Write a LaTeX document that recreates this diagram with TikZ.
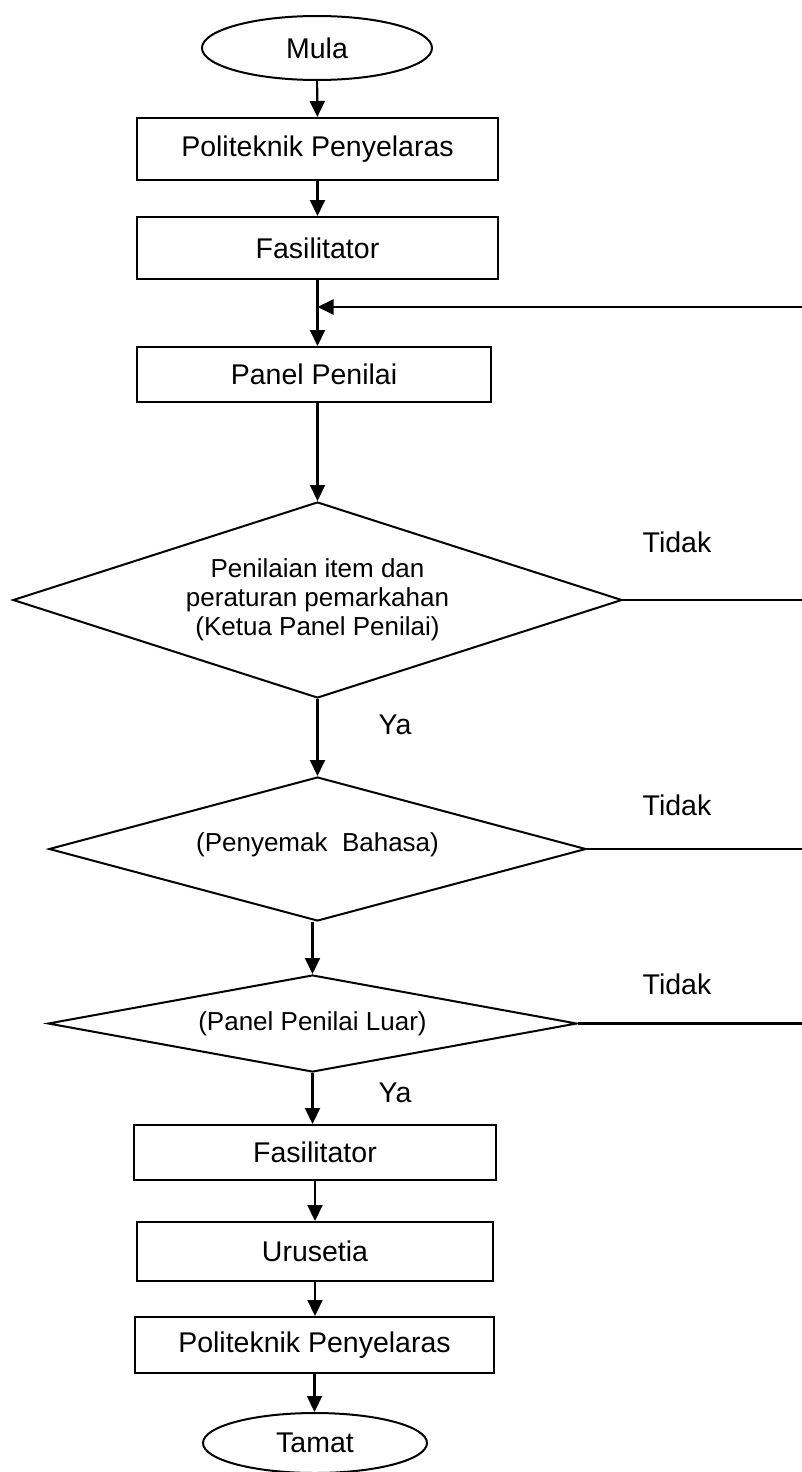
\documentclass[tikz,border=0pt]{standalone}
\usepackage{fontspec}
\setmainfont{Liberation Sans}
\usetikzlibrary{shapes.geometric,arrows.meta}
\newcommand\boxfont{\fontsize{28.5}{33}\selectfont}
\newcommand\decfont{\fontsize{26}{29}\selectfont}
\tikzset{
  conn/.style={line width=2.1pt},
  arr/.style={conn,-{Triangle[length=16pt,width=15pt]}},
  stepbox/.style={draw,rectangle,line width=2pt,inner sep=0pt,font=\boxfont},
  term/.style={draw,ellipse,line width=2pt,inner sep=0pt,font=\boxfont},
  decision/.style={draw,diamond,line width=2pt,inner sep=0pt,align=center,font=\decfont},
  lbl/.style={inner sep=0pt,font=\boxfont},
}
\begin{document}
\begin{tikzpicture}[x=1pt,y=-1pt]
\useasboundingbox (0,0) rectangle (802,1472);

% terminals and process boxes
\node[term,minimum width=230pt,minimum height=64pt] (start) at (317,48) {Mula};
\node[stepbox,minimum width=361pt,minimum height=62pt] (poli1) at (317.5,149) {Politeknik Penyelaras};
\node[stepbox,minimum width=361pt,minimum height=62pt] (fas1) at (317.5,248) {Fasilitator};
\node[stepbox,minimum width=354pt,minimum height=55pt] (panel) at (314,374.5) {Panel Penilai};

% decisions
\node[decision,shape aspect=3,minimum width=609pt,minimum height=196pt] (d1) at (317.5,600)
  {Penilaian item dan\\peraturan pemarkahan\\(Ketua Panel Penilai)};
\node[decision,shape aspect=3.7,minimum width=537pt,minimum height=144pt] (d2) at (317.5,849)
  {\raisebox{13pt}{(Penyemak\ \ Bahasa)}};
\node[decision,shape aspect=5.4,minimum width=529pt,minimum height=97pt] (d3) at (312.5,1023.5)
  {\raisebox{2pt}{(Panel Penilai Luar)}};

\node[stepbox,minimum width=362pt,minimum height=55pt] (fas2) at (315,1152.5) {Fasilitator};
\node[stepbox,minimum width=356pt,minimum height=59pt] (uru) at (315,1251.5) {Urusetia};
\node[stepbox,minimum width=359pt,minimum height=56pt] (poli2) at (314.5,1345) {Politeknik Penyelaras};
\node[term,minimum width=224pt,minimum height=60pt] (end) at (315,1443) {Tamat};

% branch labels
\node[lbl] (t1) at (677,542) {Tidak};
\node[lbl] (t2) at (677,805) {Tidak};
\node[lbl] (t3) at (677,984) {Tidak};
\node[lbl] (y1) at (395,725) {Ya};
\node[lbl] (y2) at (395,1093) {Ya};

% loose ends running off to the right
\coordinate (r0) at (802,307);
\coordinate (r1) at (802,600);
\coordinate (r2) at (802,849);
\coordinate (r3) at (802,1024);

% main flow
\draw[arr] (start) -- (poli1);
\draw[arr] (poli1.south -| fas1.north) -- (fas1.north);
\draw[arr] (fas1.south) -- (fas1.south |- panel.north);
\draw[arr] (r0) -- (r0 -| fas1.south);
\draw[arr] (panel.south -| d1.north) -- (d1.north);
\draw[arr] (d1.south) -- (d1.south |- d2.north);
\draw[arr] (d3.north |- d2.south) -- (d3.north);
\draw[arr] (d3.south) -- (d3.south |- fas2.north);
\draw[arr] (fas2.south) -- (fas2.south |- uru.north);
\draw[arr] (uru.south) -- (uru.south |- poli2.north);
\draw[arr] (poli2.south) -- (poli2.south |- end.north);

% "Tidak" exits
\draw[conn] (d1.east) -- (r1);
\draw[conn] (d2.east) -- (r2);
\draw[conn] (d3.east) -- (d3.east -| r3);
\end{tikzpicture}
\end{document}
